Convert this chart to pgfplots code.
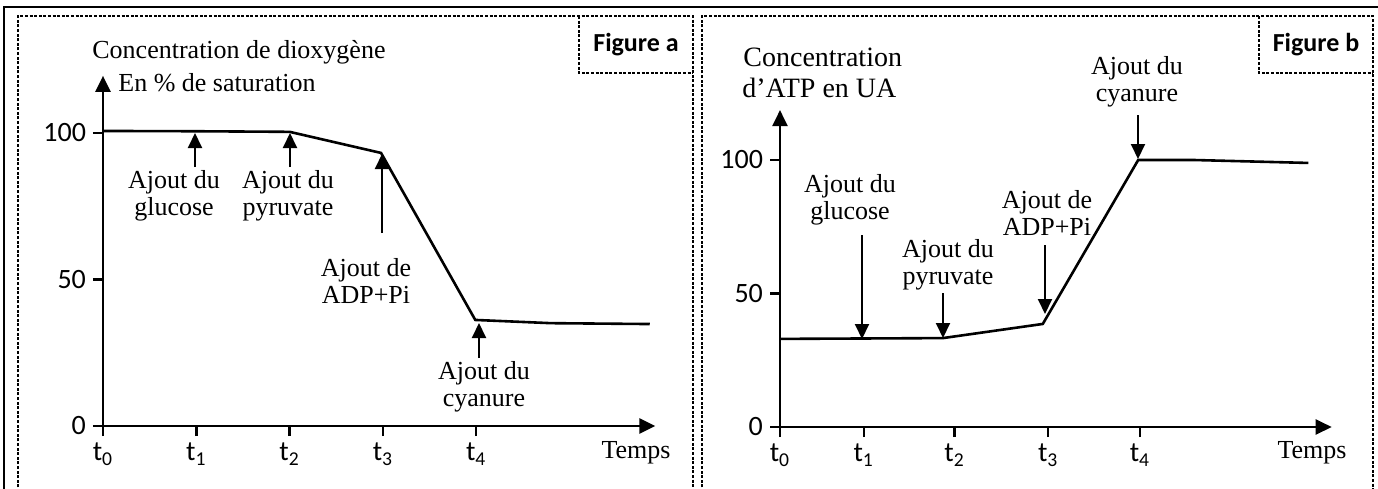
\documentclass[border=0pt]{standalone}
\usepackage{fontspec}
\setmainfont{Liberation Serif}
\newfontfamily\calfont{Carlito}
\usepackage{pgfplots}
\pgfplotsset{compat=1.18}
\usetikzlibrary{arrows.meta}

\newcommand\tf{\fontsize{13}{13.5}\selectfont}
\newcommand\tk{\calfont\fontsize{14}{15}\selectfont}

\pgfplotsset{
  myax/.style={
    anchor=south west, clip=false,
    axis lines=left,
    enlargelimits=false,
    axis line style={line width=1.2pt, -{Triangle[length=8pt,width=7.5pt]}},
    tick style={line width=1.2pt, black},
    major tick length=5pt,
    tick align=outside,
    ytick={0,50,100}, yticklabels={0,50,100},
    ticklabel style={font=\tk},
  }
}

\begin{document}
\begin{tikzpicture}
\path[use as bounding box] (0pt,0pt) rectangle (689pt,-244pt);

% ---------- Figure a ----------
\begin{axis}[myax, at={(51.5pt,-213pt)},
  x=46.65pt, y=1.465pt,
  xmin=0, xmax=5.92, ymin=0, ymax=119.5,
  xtick={0,1,2,3,4},
  xticklabels={t\textsubscript{0},t\textsubscript{1},t\textsubscript{2},t\textsubscript{3},t\textsubscript{4}},
]
\addplot[line width=1.3pt, black] coordinates {
 (0,100.7) (1,100.6) (2,100.4) (2.98,93.2) (3.99,36.2) (4.8,35.1) (5.86,34.8)
};
\end{axis}

% ---------- Figure b ----------
\begin{axis}[myax, at={(390pt,-213.5pt)},
  x=45pt, y=1.335pt,
  xmin=0, xmax=6.13, ymin=0, ymax=118.7,
  xtick={0,0.93,1.94,2.98,4},
  xticklabels={t\textsubscript{0},t\textsubscript{1},t\textsubscript{2},t\textsubscript{3},t\textsubscript{4}},
]
\addplot[line width=1.3pt, black] coordinates {
 (0,33.0) (1.81,33.3) (2.92,38.6) (3.98,100) (4.6,100) (5.87,98.9)
};
\end{axis}

\begin{scope}[x=0.5pt,y=-0.5pt]
% frames
\draw[line width=1pt] (4,492) -- (4,7) -- (1382,7);
\begin{scope}[line width=0.6pt, dash pattern=on 1.5pt off 0.8pt]
\draw (18,492) -- (18,16) -- (693,16) -- (693,492);
\draw (702,492) -- (702,16) -- (1373,16) -- (1373,492);
\draw (579,16) -- (579,73) -- (693,73);
\draw (1259,16) -- (1259,73) -- (1373,73);
\end{scope}

% ---------- texts a ----------
\node[anchor=west, inner sep=0, font=\tf] at (92,52) {Concentration de dioxygène};
\node[anchor=west, inner sep=0, font=\tf] at (118,83) {En \% de saturation};
\node[align=center, inner sep=0, font=\tf] at (174,196) {Ajout du\\glucose};
\node[align=center, inner sep=0, font=\tf] at (288,196) {Ajout du\\pyruvate};
\node[align=center, inner sep=0, font=\tf] at (366,281) {Ajout de\\ADP+Pi};
\node[align=center, inner sep=0, font=\tf] at (484,387) {Ajout du\\cyanure};
\node[inner sep=0, font=\tf] at (636,453) {Temps};
\node[inner sep=0, font=\calfont\bfseries\fontsize{13}{14}\selectfont] at (636,45) {Figure a};
\begin{scope}[line width=1pt, -{Triangle[length=7.5pt,width=7pt]}]
\draw (195,167) -- (195,133);
\draw (290,167) -- (290,133);
\draw (382,233) -- (382,154);
\draw (479,358) -- (479,323);
\end{scope}

% ---------- texts b ----------
\node[anchor=west, inner sep=0, font=\fontsize{14}{15}\selectfont] at (743,57) {Concentration};
\node[anchor=west, inner sep=0, font=\fontsize{14}{15}\selectfont] at (742,88) {d’ATP en UA};
\node[align=center, inner sep=0, font=\tf] at (850,200) {Ajout du\\glucose};
\node[align=center, inner sep=0, font=\tf] at (948,265) {Ajout du\\pyruvate};
\node[align=center, inner sep=0, font=\tf] at (1047,213) {Ajout de\\ADP+Pi};
\node[align=center, inner sep=0, font=\tf] at (1137,82) {Ajout du\\cyanure};
\node[inner sep=0, font=\tf] at (1312,453) {Temps};
\node[inner sep=0, font=\calfont\bfseries\fontsize{13}{14}\selectfont] at (1316,45) {Figure b};
\begin{scope}[line width=1pt, -{Triangle[length=7.5pt,width=7pt]}]
\draw (862,235) -- (862,339);
\draw (943,293) -- (943,338);
\draw (1045,245) -- (1045,314);
\draw (1138,115) -- (1138,159);
\end{scope}
\end{scope}
\end{tikzpicture}
\end{document}
